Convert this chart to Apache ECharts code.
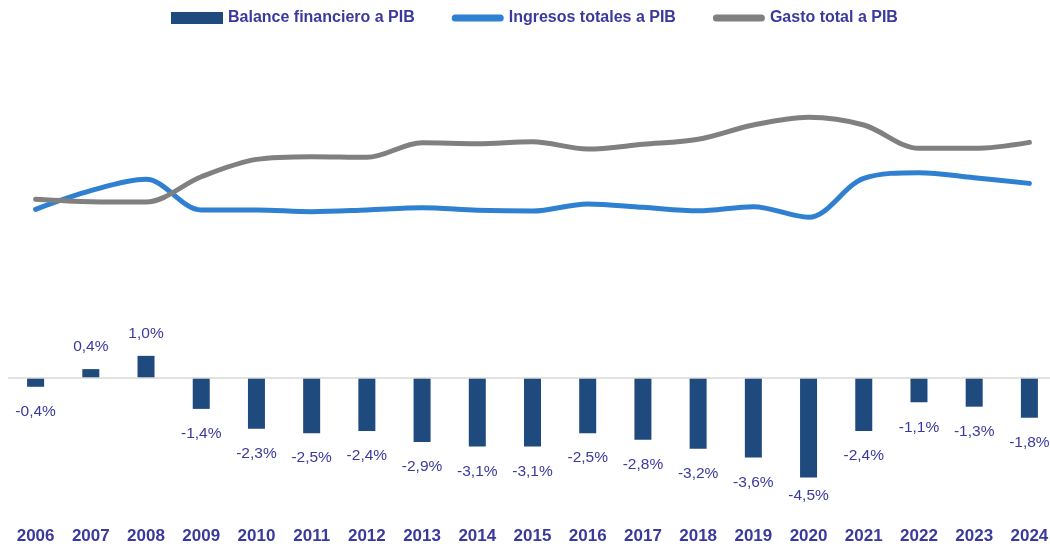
<!DOCTYPE html>
<html>
<head>
<meta charset="utf-8">
<script src="https://cdn.jsdelivr.net/npm/echarts@6/dist/echarts.min.js"></script>
<style>html,body{margin:0;padding:0;background:#fff}#c{width:1050px;height:548px}</style>
</head>
<body>
<div id="c"></div>
<script>
const years = ['2006','2007','2008','2009','2010','2011','2012','2013','2014','2015','2016','2017','2018','2019','2020','2021','2022','2023','2024'];
const balance = [-0.4,0.4,1.0,-1.4,-2.3,-2.5,-2.4,-2.9,-3.1,-3.1,-2.5,-2.8,-3.2,-3.6,-4.5,-2.4,-1.1,-1.3,-1.8];
const ingresos = [19.27,20.42,21.12,19.23,19.23,19.12,19.23,19.37,19.21,19.16,19.60,19.39,19.18,19.43,18.78,21.18,21.53,21.22,20.87];
const gasto = [19.89,19.74,19.72,21.28,22.35,22.52,22.48,23.38,23.32,23.44,22.99,23.28,23.59,24.47,24.95,24.47,23.03,23.03,23.40];

const txt = '#3A3A9E';
const font = '"Liberation Sans", Arial, sans-serif';
const fmt = v => v.toFixed(1).replace('.', ',') + '%';
const lineIcon = 'path://M3.5,0 L48.5,0 A3.5,3.5 0 0 1 48.5,7 L3.5,7 A3.5,3.5 0 0 1 3.5,0 Z';

// labels below negative bars, kept inside the plot area (as the original does for the deepest bar)
const barData = balance.map(v => ({
  value: v,
  label: { position: v >= 0 ? 'top' : 'bottom', distance: v >= 0 ? 14 : (v <= -4 ? 10 : 17) }
}));

const chart = echarts.init(document.getElementById('c'));
chart.setOption({
  animation: false,
  backgroundColor: '#fff',
  textStyle: { fontFamily: font },
  legend: {
    left: 171, top: 10, padding: 0,
    itemWidth: 52, itemHeight: 12, itemGap: 37,
    textStyle: { color: txt, fontWeight: 'bold', fontSize: 16, fontFamily: font },
    data: [
      { name: 'Balance financiero a PIB', icon: 'rect' },
      { name: 'Ingresos totales a PIB', icon: lineIcon, itemStyle: { color: '#2F80D1', borderWidth: 0 } },
      { name: 'Gasto total a PIB', icon: lineIcon, itemStyle: { color: '#808080', borderWidth: 0 } }
    ]
  },
  grid: { left: 8, right: -7, top: 35.4, bottom: 26.4, containLabel: false, outerBoundsMode: 'none' },
  xAxis: {
    type: 'category', data: years,
    axisLine: { show: false }, axisTick: { show: false },
    axisLabel: { color: txt, fontWeight: 'bold', fontSize: 17, margin: 6, fontFamily: font, interval: 0 }
  },
  yAxis: [
    { type: 'value', min: -6.5, max: 15.5, show: false, splitLine: { show: false } },
    { type: 'value', min: 0, max: 30, show: false, splitLine: { show: false } }
  ],
  series: [
    {
      name: 'Balance financiero a PIB', type: 'bar', yAxisIndex: 0,
      barWidth: 17, data: barData,
      itemStyle: { color: '#1F4A7D' },
      label: { show: true, color: txt, fontSize: 15.5, fontFamily: font, formatter: p => fmt(p.value) },
      markLine: {
        silent: true, symbol: 'none', label: { show: false },
        lineStyle: { color: '#D9D9D9', width: 1.5, type: 'solid' },
        data: [{ yAxis: 0 }]
      }
    },
    {
      name: 'Ingresos totales a PIB', type: 'line', yAxisIndex: 1,
      data: ingresos, smooth: 0.33, symbol: 'none',
      lineStyle: { color: '#2F80D1', width: 5, cap: 'round' },
      itemStyle: { color: '#2F80D1' }
    },
    {
      name: 'Gasto total a PIB', type: 'line', yAxisIndex: 1,
      data: gasto, smooth: 0.33, symbol: 'none',
      lineStyle: { color: '#808080', width: 5, cap: 'round' },
      itemStyle: { color: '#808080' }
    }
  ]
});
</script>
</body>
</html>
